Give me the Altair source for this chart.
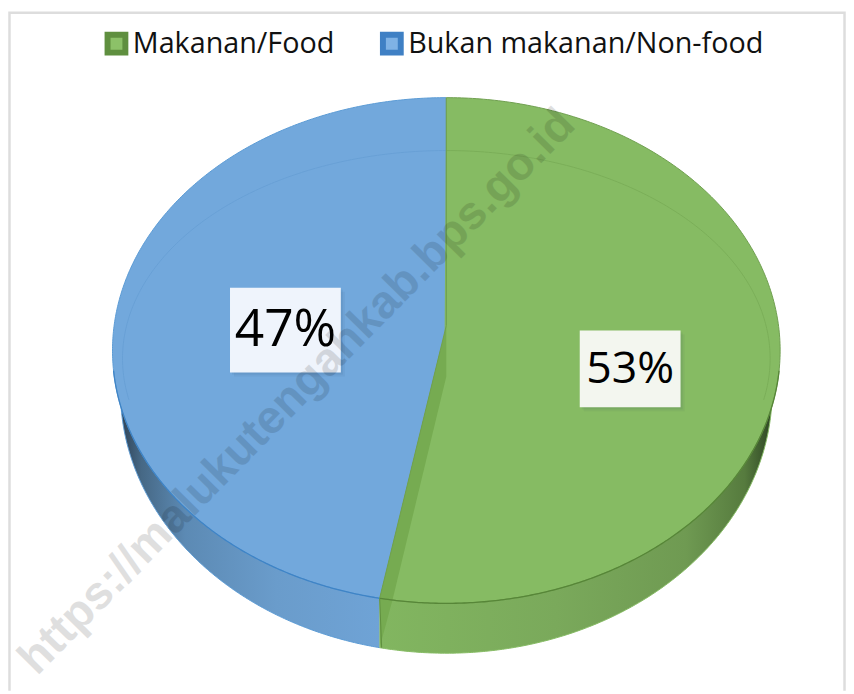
import numpy as np
import pandas as pd
import altair as alt

categories = ["Makanan/Food", "Bukan makanan/Non-food"]
shares = [53.2, 46.8]
fill_colors = ["#8cc168", "#7fb2e5"]
stroke_colors = ["#5f8f3f", "#3f80c4"]
watermark = "https://malukutengahkab.bps.go.id"

W, H = 846, 686
CX, CY, RX = 442.5, 342.5, 337      # pie centre and half-width in chart pixels
RY = 0.7575                         # top face half-height (unit of RX)
APEX = 0.075                        # drawn apex above true centre
BOT_CY, BOT_RX, BOT_RY = -0.1228, 0.976, 0.784   # base ellipse
IN_CY, IN_RX, IN_RY = -0.024, 0.970, 0.623       # inner bevel ellipse

x_min, x_max = -CX / RX, (W - CX) / RX
y_min, y_max = -(H - CY) / RX, CY / RX
x_scale = alt.Scale(domain=[x_min, x_max], range=[0, W], nice=False, zero=False)
y_scale = alt.Scale(domain=[y_min, y_max], range=[H, 0], nice=False, zero=False)
X = alt.X("x:Q", scale=x_scale, axis=None)
Y = alt.Y("y:Q", scale=y_scale, axis=None)
Y2 = alt.Y2("y2:Q")

theta_split = 2 * np.pi * shares[0] / sum(shares)
xb = np.sin(theta_split)
yb = RY * np.cos(theta_split)


def grid(a, b, rx=1.0, n=240):
    phi = np.linspace(np.arccos(np.clip(a / rx, -1, 1)), np.arccos(np.clip(b / rx, -1, 1)), n)
    return rx * np.cos(phi)


def ell(x, rx, ry, cy=0.0, sign=1):
    return cy + sign * ry * np.sqrt(np.clip(1 - (x / rx) ** 2, 0, 1))


def crease(x):
    return np.interp(x, [xb, 0], [yb, APEX])


def area(x, y, y2, **kw):
    df = pd.DataFrame({"x": x, "y": y, "y2": y2})
    return alt.Chart(df).mark_area(orient="vertical", **kw).encode(x=X, y=Y, y2=Y2)


def line(x, y, color, width=1.0, opacity=1.0):
    df = pd.DataFrame({"x": x, "y": y, "i": np.arange(len(x))})
    return alt.Chart(df).mark_line(color=color, strokeWidth=width, opacity=opacity, clip=False).encode(
        x=X, y=Y, order=alt.Order("i:Q"))


def hgrad(stops):
    return {"gradient": "linear", "x1": 0, "x2": 1, "y1": 0, "y2": 0,
            "stops": [{"offset": o, "color": c} for o, c in stops]}


# frame (no bottom edge in the reference)
inset = 1.5 / RX
frame = line([x_min + inset, x_min + inset, x_max - inset, x_max - inset],
             [y_min, y_max - inset, y_max - inset, y_min], "#dddddd", 2.5)

# legend layer: hidden under the pie
legend_df = pd.DataFrame({"x": [0, 0], "y": [0, 0], "cat": categories})
legend_layer = alt.Chart(legend_df).mark_point(shape="square", filled=True, size=4, opacity=1).encode(
    x=X, y=Y,
    fill=alt.Fill("cat:N", scale=alt.Scale(domain=categories, range=fill_colors),
                  legend=alt.Legend(title=None, orient="none", legendX=95, legendY=18, direction="horizontal",
                                    columns=2, symbolType="square", symbolSize=324, symbolStrokeWidth=6,
                                    symbolOpacity=1,
                                    labelFont="Open Sans", labelFontSize=29, labelColor="#111111",
                                    labelOffset=2, columnPadding=36, labelLimit=500, padding=0)),
    stroke=alt.Stroke("cat:N", scale=alt.Scale(domain=categories, range=stroke_colors), legend=None),
)

# walls
xw_b = grid(-BOT_RX, xb, BOT_RX)
wall_blue = area(xw_b, 0 * xw_b, ell(xw_b, BOT_RX, BOT_RY, BOT_CY, -1),
                 fill=hgrad([(0, "#2f4357"), (0.08, "#466885"), (0.25, "#5c8ab4"), (0.6, "#6a9ccb"), (1, "#6fa3d6")]))
xw_g = grid(xb, BOT_RX, BOT_RX)
wall_green = area(xw_g, 0 * xw_g, ell(xw_g, BOT_RX, BOT_RY, BOT_CY, -1),
                  fill=hgrad([(0, "#82b660"), (0.45, "#7aa95b"), (0.78, "#6f9a52"), (0.93, "#567b3e"), (1, "#2e4624")]))

# faces
xf_b = np.concatenate([grid(-1, xb), grid(xb, 0, n=40)])
face_blue = area(xf_b, ell(xf_b, 1, RY),
                 np.where(xf_b < xb, ell(xf_b, 1, RY, 0, -1), crease(xf_b)), fill="#72a8dc")
xf_g = np.concatenate([grid(xb, 0, n=40), grid(0, 1)])
face_green = area(xf_g, np.where(xf_g < 0, crease(xf_g), ell(xf_g, 1, RY)), ell(xf_g, 1, RY, 0, -1), fill="#86bb63")

# darker strip along the cut
xs_m, ys_m = -0.16, -0.7425
y_inner = -0.078
xs = np.linspace(xb, 0, 60)
strip = area(xs, crease(xs), np.interp(xs, [xb, xs_m, 0], [ell(xb, BOT_RX, BOT_RY, BOT_CY, -1), ys_m, y_inner]),
             fill="#76ab51")
seam = line([0, 0], [RY, APEX], "#6f9f50", 1.2)
cut = line([0, xb], [APEX, yb], "#6f9f50", 1.0)

# outlines
t = np.linspace(0, theta_split, 300)
t_b = np.linspace(theta_split, 2 * np.pi, 300)
edge_g_all = line(np.sin(t), RY * np.cos(t), "#6f9f50", 1.0)
t2 = np.linspace(np.pi / 2 + 0.08, theta_split, 200)
edge_g_low = line(np.sin(t2), RY * np.cos(t2), "#578638", 1.3)
edge_b_all = line(np.sin(t_b), RY * np.cos(t_b), "#5b9bd5", 1.0)
t3 = np.linspace(theta_split, 1.5 * np.pi - 0.08, 200)
edge_b_low = line(np.sin(t3), RY * np.cos(t3), "#3f84c6", 1.3)

xbot_g = grid(xb, BOT_RX, BOT_RX)
bot_g = line(xbot_g, ell(xbot_g, BOT_RX, BOT_RY, BOT_CY, -1), "#86bb63", 1.0)
xbot_b = grid(-BOT_RX, xb, BOT_RX)
bot_b = line(xbot_b, ell(xbot_b, BOT_RX, BOT_RY, BOT_CY, -1), "#5b9bd5", 1.0)
wall_cut = line([xb, xb + 0.006], [yb, ell(xb, BOT_RX, BOT_RY, BOT_CY, -1)], "#5f8f3f", 1.0)

# inner bevel line
t_in_g = np.linspace(0, np.pi / 2 + 0.2, 150)
in_g = line(IN_RX * np.sin(t_in_g), IN_CY + IN_RY * np.cos(t_in_g), "#7aae58", 1.0)
t_in_b = np.linspace(2 * np.pi, 1.5 * np.pi - 0.2, 150)
in_b = line(IN_RX * np.sin(t_in_b), IN_CY + IN_RY * np.cos(t_in_b), "#68a0d6", 1.0)

# percentage labels
label_df = pd.DataFrame({
    "label": [f"{round(s)}%" for s in shares],
    "x": [0.5507, -0.482],
    "y": [-0.055, 0.061],
    "hw": [0.151, 0.166],
    "hh": [0.115, 0.127],
    "box": ["#f3f6ef", "#eff4fc"],
    "fs": [45, 52],
})
label_df["x0"] = label_df.x - label_df.hw
label_df["x1"] = label_df.x + label_df.hw
label_df["y0"] = label_df.y - label_df.hh
label_df["y1"] = label_df.y + label_df.hh


def box_layer(off, opacity, color=None):
    d = label_df.copy()
    for c in ("x0", "x1"):
        d[c] = d[c] + off
    for c in ("y0", "y1"):
        d[c] = d[c] - off
    if color is None:
        return alt.Chart(d).mark_rect(opacity=opacity).encode(
            x=alt.X("x0:Q", scale=x_scale, axis=None), x2="x1:Q",
            y=alt.Y("y0:Q", scale=y_scale, axis=None), y2="y1:Q",
            fill=alt.Fill("box:N", scale=None, legend=None))
    return alt.Chart(d).mark_rect(opacity=opacity, color=color).encode(
        x=alt.X("x0:Q", scale=x_scale, axis=None), x2="x1:Q",
        y=alt.Y("y0:Q", scale=y_scale, axis=None), y2="y1:Q")


shadow1 = box_layer(0.012, 0.06, "#1f3a55")
shadow2 = box_layer(0.006, 0.08, "#1f3a55")
boxes = box_layer(0, 1)
label_text = alt.Chart(label_df).mark_text(font="Open Sans", color="#000000", baseline="middle",
                                           align="center").encode(
    x=X, y=Y, text="label:N", size=alt.Size("fs:Q", scale=None, legend=None))

wm_df = pd.DataFrame({"x": [-0.447], "y": [-0.124], "t": [watermark]})
wm = alt.Chart(wm_df).mark_text(font="Liberation Sans", fontWeight="bold", fontSize=47, angle=314.5,
                                color="#000000", opacity=0.12, align="center", baseline="middle").encode(
    x=X, y=Y, text="t:N")

chart = alt.layer(
    frame, legend_layer, wall_blue, wall_green, bot_b, bot_g, face_blue, face_green, strip, wall_cut,
    in_b, in_g, edge_b_all, edge_g_all, edge_b_low, edge_g_low, seam, cut,
    shadow1, shadow2, boxes, label_text, wm,
).resolve_scale(fill="independent", stroke="independent").properties(
    width=W, height=H, background="#ffffff", padding=0, autosize=alt.AutoSizeParams(type="none"),
).configure_view(stroke=None)

chart.save("out.html", embed_options={"renderer": "svg", "actions": False})
